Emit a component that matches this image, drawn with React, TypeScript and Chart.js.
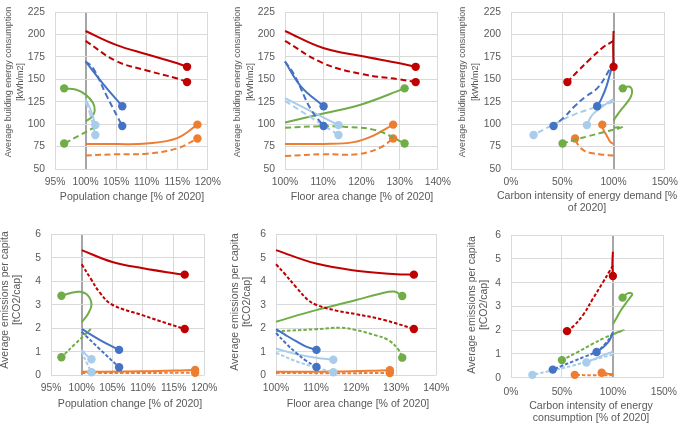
import { useEffect, useRef } from "react"
import { Chart, registerables } from "chart.js"

Chart.register(...registerables)

type Pt = [number, number]

// Series order used in every panel
const seriesNames = [
  "Red solid", "Red dashed",
  "Blue solid", "Blue dashed",
  "Light blue solid", "Light blue dashed",
  "Green solid", "Green dashed",
  "Orange solid", "Orange dashed",
]
const RED = "#C00000"
const BLUE = "#4472C4"
const LIGHT = "#A9CCEB"
const GREEN = "#70AD47"
const ORANGE = "#ED7D31"
const seriesColors = [RED, RED, BLUE, BLUE, LIGHT, LIGHT, GREEN, GREEN, ORANGE, ORANGE]
const seriesDashed = [false, true, false, true, false, true, false, true, false, true]

// Population change [%] vs energy consumption [kWh/m2]
const popEnergy: Pt[][] = [
  [[100, 204], [105, 188.5], [110, 178], [115, 168], [116.6, 164]],
  [[100, 193], [105, 170.5], [110, 160], [115, 151], [116.6, 147]],
  [[100, 170], [103, 144], [106, 120]],
  [[100, 170], [101.2, 163], [103.5, 131], [106, 98]],
  [[100, 128], [100.9, 115], [101.6, 99]],
  [[100, 125], [100.8, 110], [101.6, 88]],
  [[100, 103], [101, 108], [101.5, 115], [101.2, 124], [100, 133], [98.5, 138.5], [96.5, 140]],
  [[101.6, 97], [99, 87.5], [96.5, 78.5]],
  [[100, 78], [105, 77.8], [110, 78.5], [115, 84.5], [118.3, 99.5]],
  [[100, 65], [105, 66.5], [110, 67], [115, 73], [118.3, 84]],
]

// Floor area change [%] vs energy consumption
const floorEnergy: Pt[][] = [
  [[100, 204], [110, 185], [120, 176], [130, 168], [134.2, 164]],
  [[100, 193], [110, 168], [120, 156], [130, 150], [134.2, 147]],
  [[100, 170], [104.2, 142], [110.1, 120]],
  [[100, 170], [102.5, 154.5], [106.7, 117], [110.1, 98]],
  [[100, 129], [107, 114], [114, 99]],
  [[100, 126], [107, 107], [114, 88]],
  [[100, 102], [110, 112], [120, 122], [131.3, 140]],
  [[100, 96], [108, 97.5], [116, 97], [124, 93], [131.3, 78.5]],
  [[100, 78], [110, 78], [118, 80], [123, 87], [128.3, 99.5]],
  [[100, 64.5], [110, 66.5], [119, 66.5], [125, 74], [128.3, 84]],
]

// Carbon intensity of energy demand [%] vs energy consumption
const carbonEnergy: Pt[][] = [
  [[100, 204], [99.6, 185], [100, 164]],
  [[100, 193], [90, 186], [77.5, 173], [65, 159], [55, 147]],
  [[100, 170], [97, 158], [93, 142], [88, 128], [84, 120]],
  [[100, 170], [93, 155], [84, 140], [72, 130], [62, 120], [52, 108], [41.5, 98]],
  [[100, 128], [92, 122], [86, 117], [79, 110], [74, 99]],
  [[100, 125], [80, 118], [62, 111], [42, 100], [22, 88]],
  [[100, 104], [104, 111], [108, 117], [113, 124], [117, 131], [118, 138], [115, 142], [109, 140]],
  [[100, 96], [106, 97], [109, 97.2], [104, 95], [90, 91], [75, 86.5], [62, 82.5], [50.3, 78.5]],
  [[100, 78], [97, 80], [93, 88], [90, 94], [89, 99.5]],
  [[100, 65], [90, 66], [80, 67.5], [72, 70], [66, 76], [62.5, 84]],
]

// Population change [%] vs emissions per capita [tCO2/cap]
const popEmissions: Pt[][] = [
  [[100, 5.32], [105, 4.82], [110, 4.55], [115, 4.34], [116.8, 4.28]],
  [[100, 4.72], [101.5, 4.1], [103, 3.5], [105, 3.0], [110, 2.55], [114, 2.2], [116.8, 1.97]],
  [[100, 1.97], [103, 1.5], [106.1, 1.08]],
  [[100, 1.85], [103, 1.1], [106.1, 0.34]],
  [[100, 1.1], [100.8, 0.85], [101.6, 0.68]],
  [[100, 1.0], [100.8, 0.55], [101.6, 0.13]],
  [[100, 2.25], [101, 2.6], [101.6, 3.0], [101, 3.4], [99.7, 3.55], [98.2, 3.5], [96.7, 3.38]],
  [[101.5, 1.97], [99, 1.35], [96.7, 0.77]],
  [[100, 0.15], [110, 0.17], [118.5, 0.23]],
  [[100, 0.1], [110, 0.1], [118.5, 0.11]],
]

// Floor area change [%] vs emissions per capita
const floorEmissions: Pt[][] = [
  [[100, 5.32], [110, 4.75], [120, 4.45], [130, 4.3], [134.4, 4.28]],
  [[100, 4.72], [102, 4.35], [105, 3.75], [108, 3.2], [110, 3.0], [115, 2.75], [120, 2.6], [127, 2.35], [134.4, 1.97]],
  [[100, 1.96], [102.5, 1.7], [105, 1.45], [107.5, 1.22], [110.1, 1.08]],
  [[100, 1.8], [102.5, 1.35], [105, 0.96], [107.5, 0.62], [110.1, 0.35]],
  [[100, 1.14], [105, 0.9], [110, 0.75], [114.3, 0.66]],
  [[100, 0.96], [105, 0.6], [110, 0.33], [114.3, 0.13]],
  [[100, 2.28], [110, 2.77], [120, 3.2], [126, 3.47], [129.5, 3.56], [131.5, 3.37]],
  [[100, 1.87], [110, 1.96], [116.3, 2.02], [120, 1.92], [124.5, 1.72], [128, 1.5], [130.5, 1.1], [131.5, 0.75]],
  [[100, 0.15], [115, 0.16], [128.4, 0.22]],
  [[100, 0.1], [115, 0.09], [128.4, 0.1]],
]

// Carbon intensity of energy consumption [%] vs emissions per capita
const carbonEmissions: Pt[][] = [
  [[100, 5.3], [99.5, 4.8], [100, 4.28]],
  [[100, 4.72], [97, 4.5], [90, 4.0], [80.6, 3.34], [71, 2.66], [62, 2.2], [55, 1.96]],
  [[100, 1.92], [97, 1.6], [93, 1.38], [88, 1.2], [84, 1.08]],
  [[100, 1.85], [92, 1.4], [84, 1.1], [72, 0.88], [61.7, 0.7], [50, 0.5], [41, 0.34]],
  [[100, 1.1], [88, 0.9], [74, 0.64]],
  [[100, 0.97], [80, 0.75], [60, 0.5], [40, 0.3], [21, 0.12]],
  [[100, 2.25], [104, 2.55], [108, 2.85], [113, 3.15], [117, 3.38], [119, 3.52], [115, 3.56], [109.5, 3.37]],
  [[100, 1.83], [110.5, 2.0], [104, 1.9], [92, 1.68], [80, 1.42], [65, 1.07], [50, 0.74]],
  [[100, 0.15], [95, 0.17], [89, 0.21]],
  [[100, 0.1], [80, 0.1], [62.6, 0.12]],
]

// axis ranges / tick steps: [min, max, step]
const popTicks = [95, 120, 5]
const floorTicks = [100, 140, 10]
const carbonTicks = [0, 150, 50]
const energyTicks = [50, 225, 25]
const emissionTicks = [0, 6, 1]

const energyTitle = ["Average building energy consumption", "[kWh/m2]"]
const emissionTitle = ["Average emissions per capita", "[tCO2/cap]"]

const FONT = "'Liberation Sans', Arial, sans-serif"
const TEXT = "#595959"
const X_TITLE_FONT = 10.6
const X_TITLE_LH = 11.8

interface PanelCfg {
  data: Pt[][]
  box: { left: number; top: number; width: number; height: number }
  area: { x0: number; x1: number; y0: number; y1: number }
  xTicks: number[]
  yTicks: number[]
  xTitle: string[]
  yTitle: string[]
  xTitleX: number
  xTitleY: number
  yTitleX: number
  yTitleY: number
  yTitleFont: number
  yTitleLH: number
  xTickPad: number
  mark100: boolean
  dash: number[]
}

const topDash = [6, 3.5]
const bottomDash = [3.5, 2]

const panels: PanelCfg[] = [
  {
    data: popEnergy, box: { left: 0, top: -4, width: 228, height: 216 },
    area: { x0: 55, x1: 211, y0: 6, y1: 169 }, xTicks: popTicks, yTicks: energyTicks,
    xTitle: ["Population change [% of 2020]"], yTitle: energyTitle,
    xTitleX: 132, xTitleY: 197, yTitleX: 8.3, yTitleY: 82, yTitleFont: 9, yTitleLH: 12.7,
    xTickPad: 7, mark100: true, dash: topDash,
  },
  {
    data: floorEnergy, box: { left: 230, top: -4, width: 228, height: 216 },
    area: { x0: 285, x1: 441, y0: 6, y1: 169 }, xTicks: floorTicks, yTicks: energyTicks,
    xTitle: ["Floor area change [% of 2020]"], yTitle: energyTitle,
    xTitleX: 362, xTitleY: 197, yTitleX: 238, yTitleY: 82, yTitleFont: 9, yTitleLH: 12.7,
    xTickPad: 7, mark100: false, dash: topDash,
  },
  {
    data: carbonEnergy, box: { left: 455, top: -4, width: 230, height: 222 },
    area: { x0: 511, x1: 671, y0: 6, y1: 169 }, xTicks: carbonTicks, yTicks: energyTicks,
    xTitle: ["Carbon intensity of energy demand [%", "of 2020]"], yTitle: energyTitle,
    xTitleX: 587, xTitleY: 196, yTitleX: 463, yTitleY: 82, yTitleFont: 9, yTitleLH: 12.7,
    xTickPad: 7, mark100: true, dash: topDash,
  },
  {
    data: popEmissions, box: { left: -2, top: 218, width: 226, height: 206 },
    area: { x0: 51, x1: 207, y0: 228, y1: 375.3 }, xTicks: popTicks, yTicks: emissionTicks,
    xTitle: ["Population change [% of 2020]"], yTitle: emissionTitle,
    xTitleX: 130, xTitleY: 403.7, yTitleX: 5.5, yTitleY: 300, yTitleFont: 10.5, yTitleLH: 12,
    xTickPad: 6.5, mark100: true, dash: bottomDash,
  },
  {
    data: floorEmissions, box: { left: 228, top: 218, width: 228, height: 206 },
    area: { x0: 276, x1: 439, y0: 228, y1: 375.3 }, xTicks: floorTicks, yTicks: emissionTicks,
    xTitle: ["Floor area change [% of 2020]"], yTitle: emissionTitle,
    xTitleX: 358, xTitleY: 403.7, yTitleX: 235.5, yTitleY: 302, yTitleFont: 10.5, yTitleLH: 12,
    xTickPad: 6.5, mark100: false, dash: bottomDash,
  },
  {
    data: carbonEmissions, box: { left: 464, top: 219, width: 221, height: 208 },
    area: { x0: 511, x1: 671, y0: 229.3, y1: 377.7 }, xTicks: carbonTicks, yTicks: emissionTicks,
    xTitle: ["Carbon intensity of energy", "consumption [% of 2020]"], yTitle: emissionTitle,
    xTitleX: 591, xTitleY: 406.3, yTitleX: 472, yTitleY: 305, yTitleFont: 10.5, yTitleLH: 12,
    xTickPad: 8, mark100: true, dash: bottomDash,
  },
]

function Panel({ cfg }: { cfg: PanelCfg }) {
  const chartRef = useRef<HTMLCanvasElement>(null)
  const chartInstance = useRef<Chart | null>(null)

  useEffect(() => {
    if (!chartRef.current) return
    if (chartInstance.current) chartInstance.current.destroy()

    const { box, area } = cfg
    const bottom = box.top + box.height

    const datasets = cfg.data.map((pts, i) => ({
      label: seriesNames[i],
      data: pts.map(([x, y]) => ({ x, y })),
      showLine: true,
      borderColor: seriesColors[i],
      backgroundColor: seriesColors[i],
      borderWidth: 2,
      borderDash: seriesDashed[i] ? cfg.dash : [],
      tension: 0.4,
      pointRadius: pts.map((_, j) => (j === pts.length - 1 ? 4.2 : 0)),
      pointBorderWidth: 0,
      clip: false as const,
    }))

    const is100 = (ctx: any) => cfg.mark100 && ctx.tick && ctx.tick.value === 100
    const gridColor = (ctx: any) => (is100(ctx) ? "#a6a6a6" : "#d9d9d9")
    const gridWidth = (ctx: any) => (is100(ctx) ? 2 : 1)

    // axis titles drawn by hand so long titles are not squeezed to the axis width
    const axisTitles = {
      id: "axisTitles",
      afterDraw(chart: Chart) {
        const ctx = chart.ctx
        ctx.save()
        ctx.fillStyle = TEXT
        ctx.textAlign = "center"
        ctx.textBaseline = "middle"
        ctx.font = `${X_TITLE_FONT}px ${FONT}`
        cfg.xTitle.forEach((line, i) => {
          ctx.fillText(line, cfg.xTitleX - box.left, cfg.xTitleY - box.top + i * X_TITLE_LH)
        })
        ctx.translate(cfg.yTitleX - box.left, cfg.yTitleY - box.top)
        ctx.rotate(-Math.PI / 2)
        ctx.font = `${cfg.yTitleFont}px ${FONT}`
        cfg.yTitle.forEach((line, i) => {
          ctx.fillText(line, 0, i * cfg.yTitleLH)
        })
        ctx.restore()
      },
    }

    chartInstance.current = new Chart(chartRef.current, {
      type: "scatter",
      data: { datasets },
      plugins: [axisTitles],
      options: {
        responsive: false,
        animation: false,
        events: [],
        layout: {
          padding: {
            left: 0,
            top: area.y0 - box.top,
            right: box.left + box.width - area.x1,
            bottom: 0,
          },
        },
        plugins: { legend: { display: false }, tooltip: { enabled: false } },
        scales: {
          x: {
            type: "linear",
            min: cfg.xTicks[0],
            max: cfg.xTicks[1],
            afterFit: (scale: any) => {
              scale.height = bottom - area.y1
            },
            ticks: {
              stepSize: cfg.xTicks[2],
              autoSkip: false,
              maxRotation: 0,
              padding: cfg.xTickPad,
              color: TEXT,
              font: { family: FONT, size: 10.3 },
              callback: (v: any) => `${v}%`,
            },
            grid: { color: gridColor, lineWidth: gridWidth, drawTicks: false },
            border: { display: false },
          },
          y: {
            type: "linear",
            min: cfg.yTicks[0],
            max: cfg.yTicks[1],
            afterFit: (scale: any) => {
              scale.width = area.x0 - box.left
            },
            ticks: {
              stepSize: cfg.yTicks[2],
              padding: 10,
              color: TEXT,
              font: { family: FONT, size: 10.3 },
            },
            grid: { color: "#d9d9d9", drawTicks: false },
            border: { display: false },
          },
        },
      },
    })

    return () => {
      if (chartInstance.current) {
        chartInstance.current.destroy()
        chartInstance.current = null
      }
    }
  }, [cfg])

  return (
    <canvas
      ref={chartRef}
      width={cfg.box.width}
      height={cfg.box.height}
      style={{
        position: "absolute",
        left: cfg.box.left,
        top: cfg.box.top,
        width: cfg.box.width,
        height: cfg.box.height,
      }}
    />
  )
}

export default function App() {
  return (
    <div
      style={{
        position: "fixed",
        left: 0,
        top: 0,
        width: 685,
        height: 424,
        overflow: "hidden",
        background: "#fff",
      }}
    >
      {panels.map((p, i) => (
        <Panel key={i} cfg={p} />
      ))}
    </div>
  )
}
